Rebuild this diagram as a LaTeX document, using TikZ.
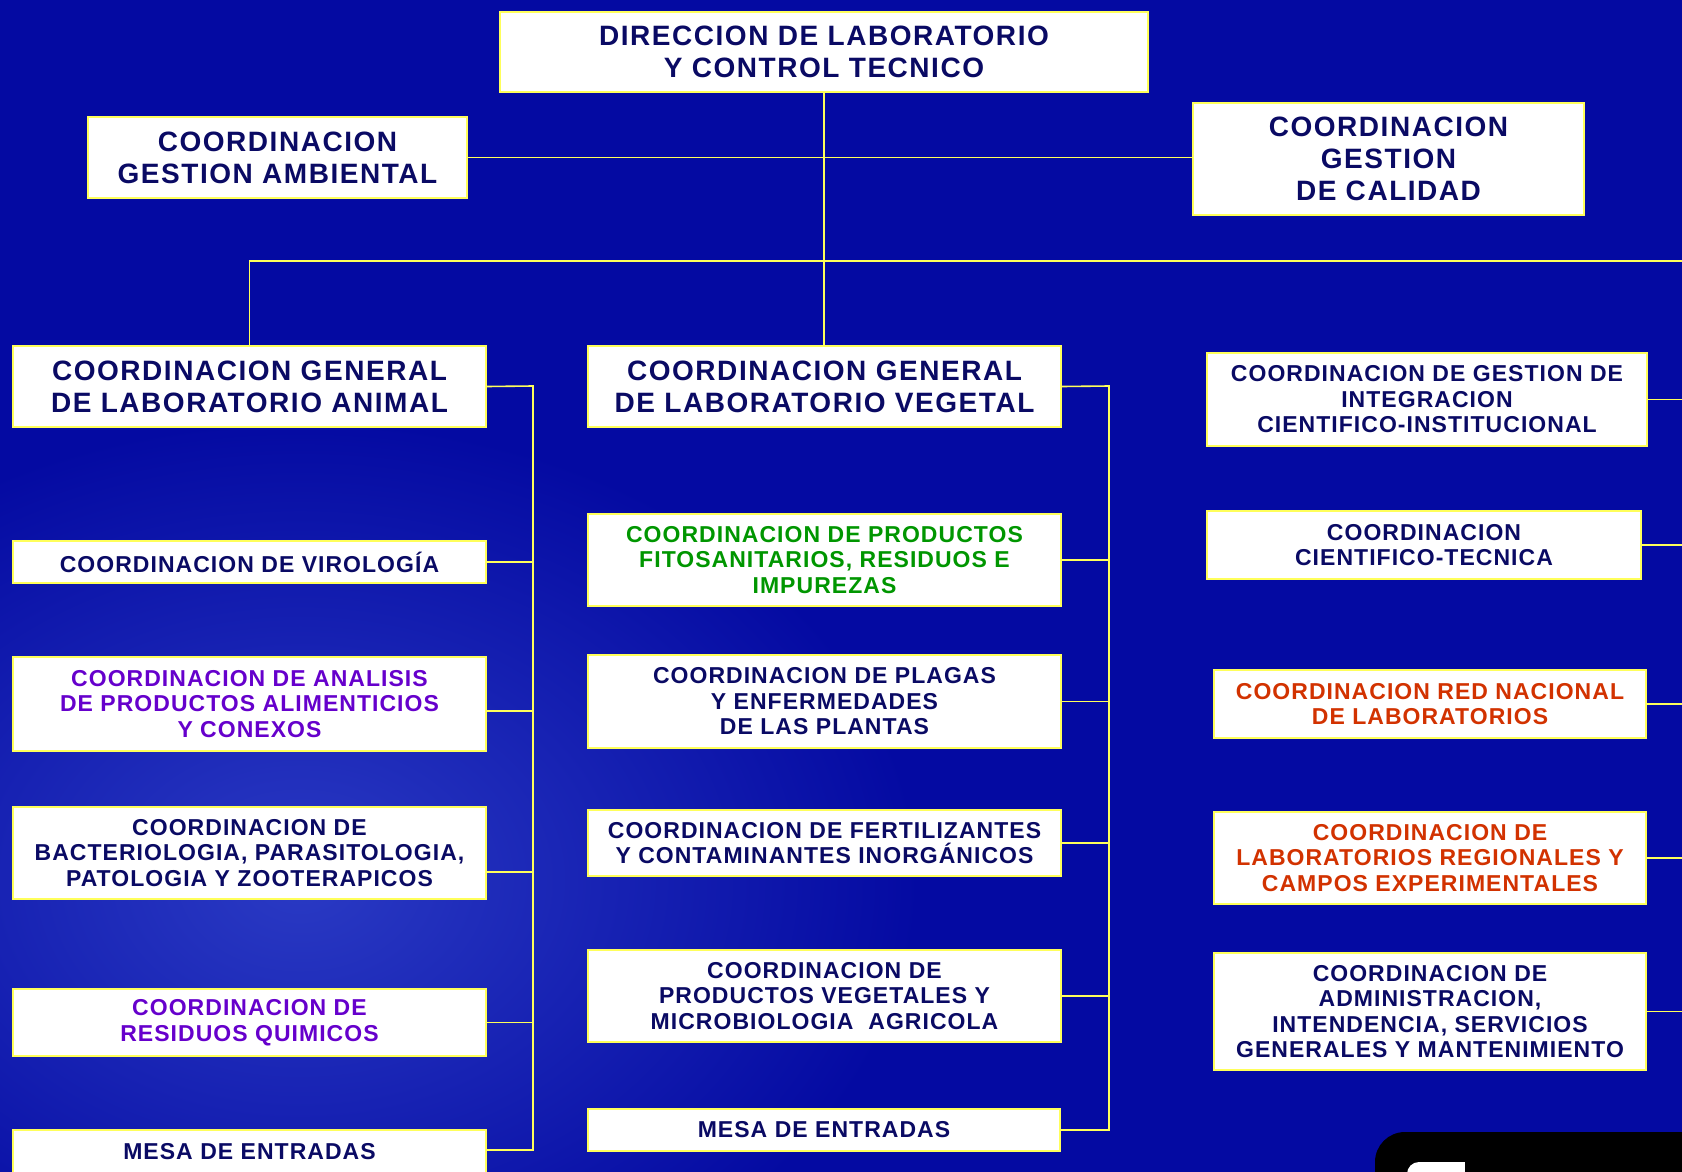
\documentclass[tikz,border=0pt]{standalone}
\usepackage{fontspec}
\setmainfont{Liberation Sans}
\usepackage{tikz}

\definecolor{bgblue}{RGB}{4,10,162}
\definecolor{bglight}{RGB}{42,58,196}
\definecolor{linecol}{RGB}{255,255,90}
\definecolor{navytxt}{RGB}{10,10,100}
\definecolor{purpletxt}{RGB}{102,0,204}
\definecolor{greentxt}{RGB}{0,150,0}
\definecolor{redtxt}{RGB}{210,50,0}

\newcommand{\bigtxt}{\fontsize{28}{32}\selectfont\bfseries\addfontfeatures{LetterSpace=5.5}}
\newcommand{\smalltxt}{\fontsize{23}{25.5}\selectfont\bfseries\addfontfeatures{LetterSpace=4.5}}

\tikzset{
  box/.style={draw=linecol, fill=white, line width=2pt, inner sep=0pt, align=center, text=navytxt, font=\smalltxt},
  bigbox/.style={box, font=\bigtxt},
  link/.style={draw=linecol, line width=1.6pt}
}

\begin{document}
\begin{tikzpicture}[x=1pt,y=-1pt]
    \useasboundingbox (0,0) rectangle (1682,1172);
    \fill[bgblue] (0,0) rectangle (1682,1172);
    \shade[inner color=bglight, outer color=bgblue] (300,880) ellipse [x radius=620pt, y radius=460pt];
    % logo corner
    \fill[black, rounded corners=30pt] (1375,1132) rectangle (1740,1240);
    \fill[white, rounded corners=12pt] (1407,1162) rectangle (1465,1240);
    \fill[white] (1440,1162) rectangle (1465,1240);

    % top level
    \node[bigbox, minimum width=648pt, minimum height=80pt] (dir) at (824,52) {DIRECCION DE LABORATORIO\\Y CONTROL TECNICO};
    \node[bigbox, minimum width=379pt, minimum height=81pt] (amb) at (277.5,157.5) {COORDINACION\\GESTION AMBIENTAL};
    \node[bigbox, minimum width=391pt, minimum height=112pt] (cal) at (1388.5,159) {COORDINACION\\GESTION\\DE CALIDAD};
    \node[bigbox, minimum width=473pt, minimum height=81pt] (ani) at (249.5,386.5) {COORDINACION GENERAL\\DE LABORATORIO ANIMAL};
    \node[bigbox, minimum width=473pt, minimum height=81pt] (veg) at (824.5,386.5) {COORDINACION GENERAL\\DE LABORATORIO VEGETAL};

    % animal
    \node[box, minimum width=473pt, minimum height=42pt] (vir) at (249.5,562) {COORDINACION DE VIROLOGÍA};
    \node[box, text=purpletxt, minimum width=473pt, minimum height=94pt] (ana) at (249.5,704) {COORDINACION DE ANALISIS\\DE PRODUCTOS ALIMENTICIOS\\Y CONEXOS};
    \node[box, minimum width=473pt, minimum height=92pt] (bac) at (249.5,853) {COORDINACION DE\\BACTERIOLOGIA, PARASITOLOGIA,\\PATOLOGIA Y ZOOTERAPICOS};
    \node[box, text=purpletxt, minimum width=473pt, minimum height=67pt] (res) at (249.5,1022.5) {COORDINACION DE\\RESIDUOS QUIMICOS};
    \node[box, minimum width=473pt, minimum height=44pt] (ame) at (249.5,1152) {MESA DE ENTRADAS};

    % vegetal
    \node[box, text=greentxt, minimum width=473pt, minimum height=92pt] (fit) at (824.5,560) {COORDINACION DE PRODUCTOS\\FITOSANITARIOS, RESIDUOS E\\IMPUREZAS};
    \node[box, minimum width=473pt, minimum height=93pt] (pla) at (824.5,701.5) {COORDINACION DE PLAGAS\\Y ENFERMEDADES\\DE LAS PLANTAS};
    \node[box, minimum width=473pt, minimum height=66pt] (fer) at (824.5,843) {COORDINACION DE FERTILIZANTES\\Y CONTAMINANTES INORGÁNICOS};
    \node[box, minimum width=473pt, minimum height=92pt] (pve) at (824.5,996) {COORDINACION DE\\PRODUCTOS VEGETALES Y\\MICROBIOLOGIA\ \ AGRICOLA};
    \node[box, minimum width=472pt, minimum height=42pt] (vme) at (824,1130) {MESA DE ENTRADAS};

    % right column
    \node[box, minimum width=440pt, minimum height=93pt] (int) at (1427,399.5) {COORDINACION DE GESTION DE\\INTEGRACION\\CIENTIFICO-INSTITUCIONAL};
    \node[box, minimum width=434pt, minimum height=68pt] (tec) at (1424,545) {COORDINACION\\CIENTIFICO-TECNICA};
    \node[box, text=redtxt, minimum width=432pt, minimum height=68pt] (red) at (1430,704) {COORDINACION RED NACIONAL\\DE LABORATORIOS};
    \node[box, text=redtxt, minimum width=432pt, minimum height=92pt] (reg) at (1430,858) {COORDINACION DE\\LABORATORIOS REGIONALES Y\\CAMPOS EXPERIMENTALES};
    \node[box, minimum width=432pt, minimum height=117pt] (adm) at (1430,1011.5) {COORDINACION DE\\ADMINISTRACION,\\INTENDENCIA, SERVICIOS\\GENERALES Y MANTENIMIENTO};

    \coordinate (hbar) at (1682,261);
    \coordinate (rim) at (1682,0);
    \coordinate (abus) at (533,386);
    \coordinate (vbus) at (1109,386);

    % top links
    \draw[link] (dir.south) -- (dir.south |- veg.north);
    \draw[link] (amb.east) -- (amb.east -| cal.west);
    \draw[link] (ani.north) |- (hbar);

    % animal bus
    \draw[link] (ani.east) -- (abus) |- ([yshift=2pt]ame.east);
    \draw[link] (vir.east) -- (vir.east -| abus);
    \draw[link] ([yshift=-7pt]ana.east) -- ([yshift=-7pt]ana.east -| abus);
    \draw[link] ([yshift=-19pt]bac.east) -- ([yshift=-19pt]bac.east -| abus);
    \draw[link] (res.east) -- (res.east -| abus);

    % vegetal bus
    \draw[link] (veg.east) -- (vbus) |- (vme.east);
    \draw[link] (fit.east) -- (fit.east -| vbus);
    \draw[link] (pla.east) -- (pla.east -| vbus);
    \draw[link] (fer.east) -- (fer.east -| vbus);
    \draw[link] (pve.east) -- (pve.east -| vbus);

    % right side, running off the page
    \draw[link] (int.east) -- (int.east -| rim);
    \draw[link] (tec.east) -- (tec.east -| rim);
    \draw[link] (red.east) -- (red.east -| rim);
    \draw[link] (reg.east) -- (reg.east -| rim);
    \draw[link] (adm.east) -- (adm.east -| rim);
\end{tikzpicture}
\end{document}
